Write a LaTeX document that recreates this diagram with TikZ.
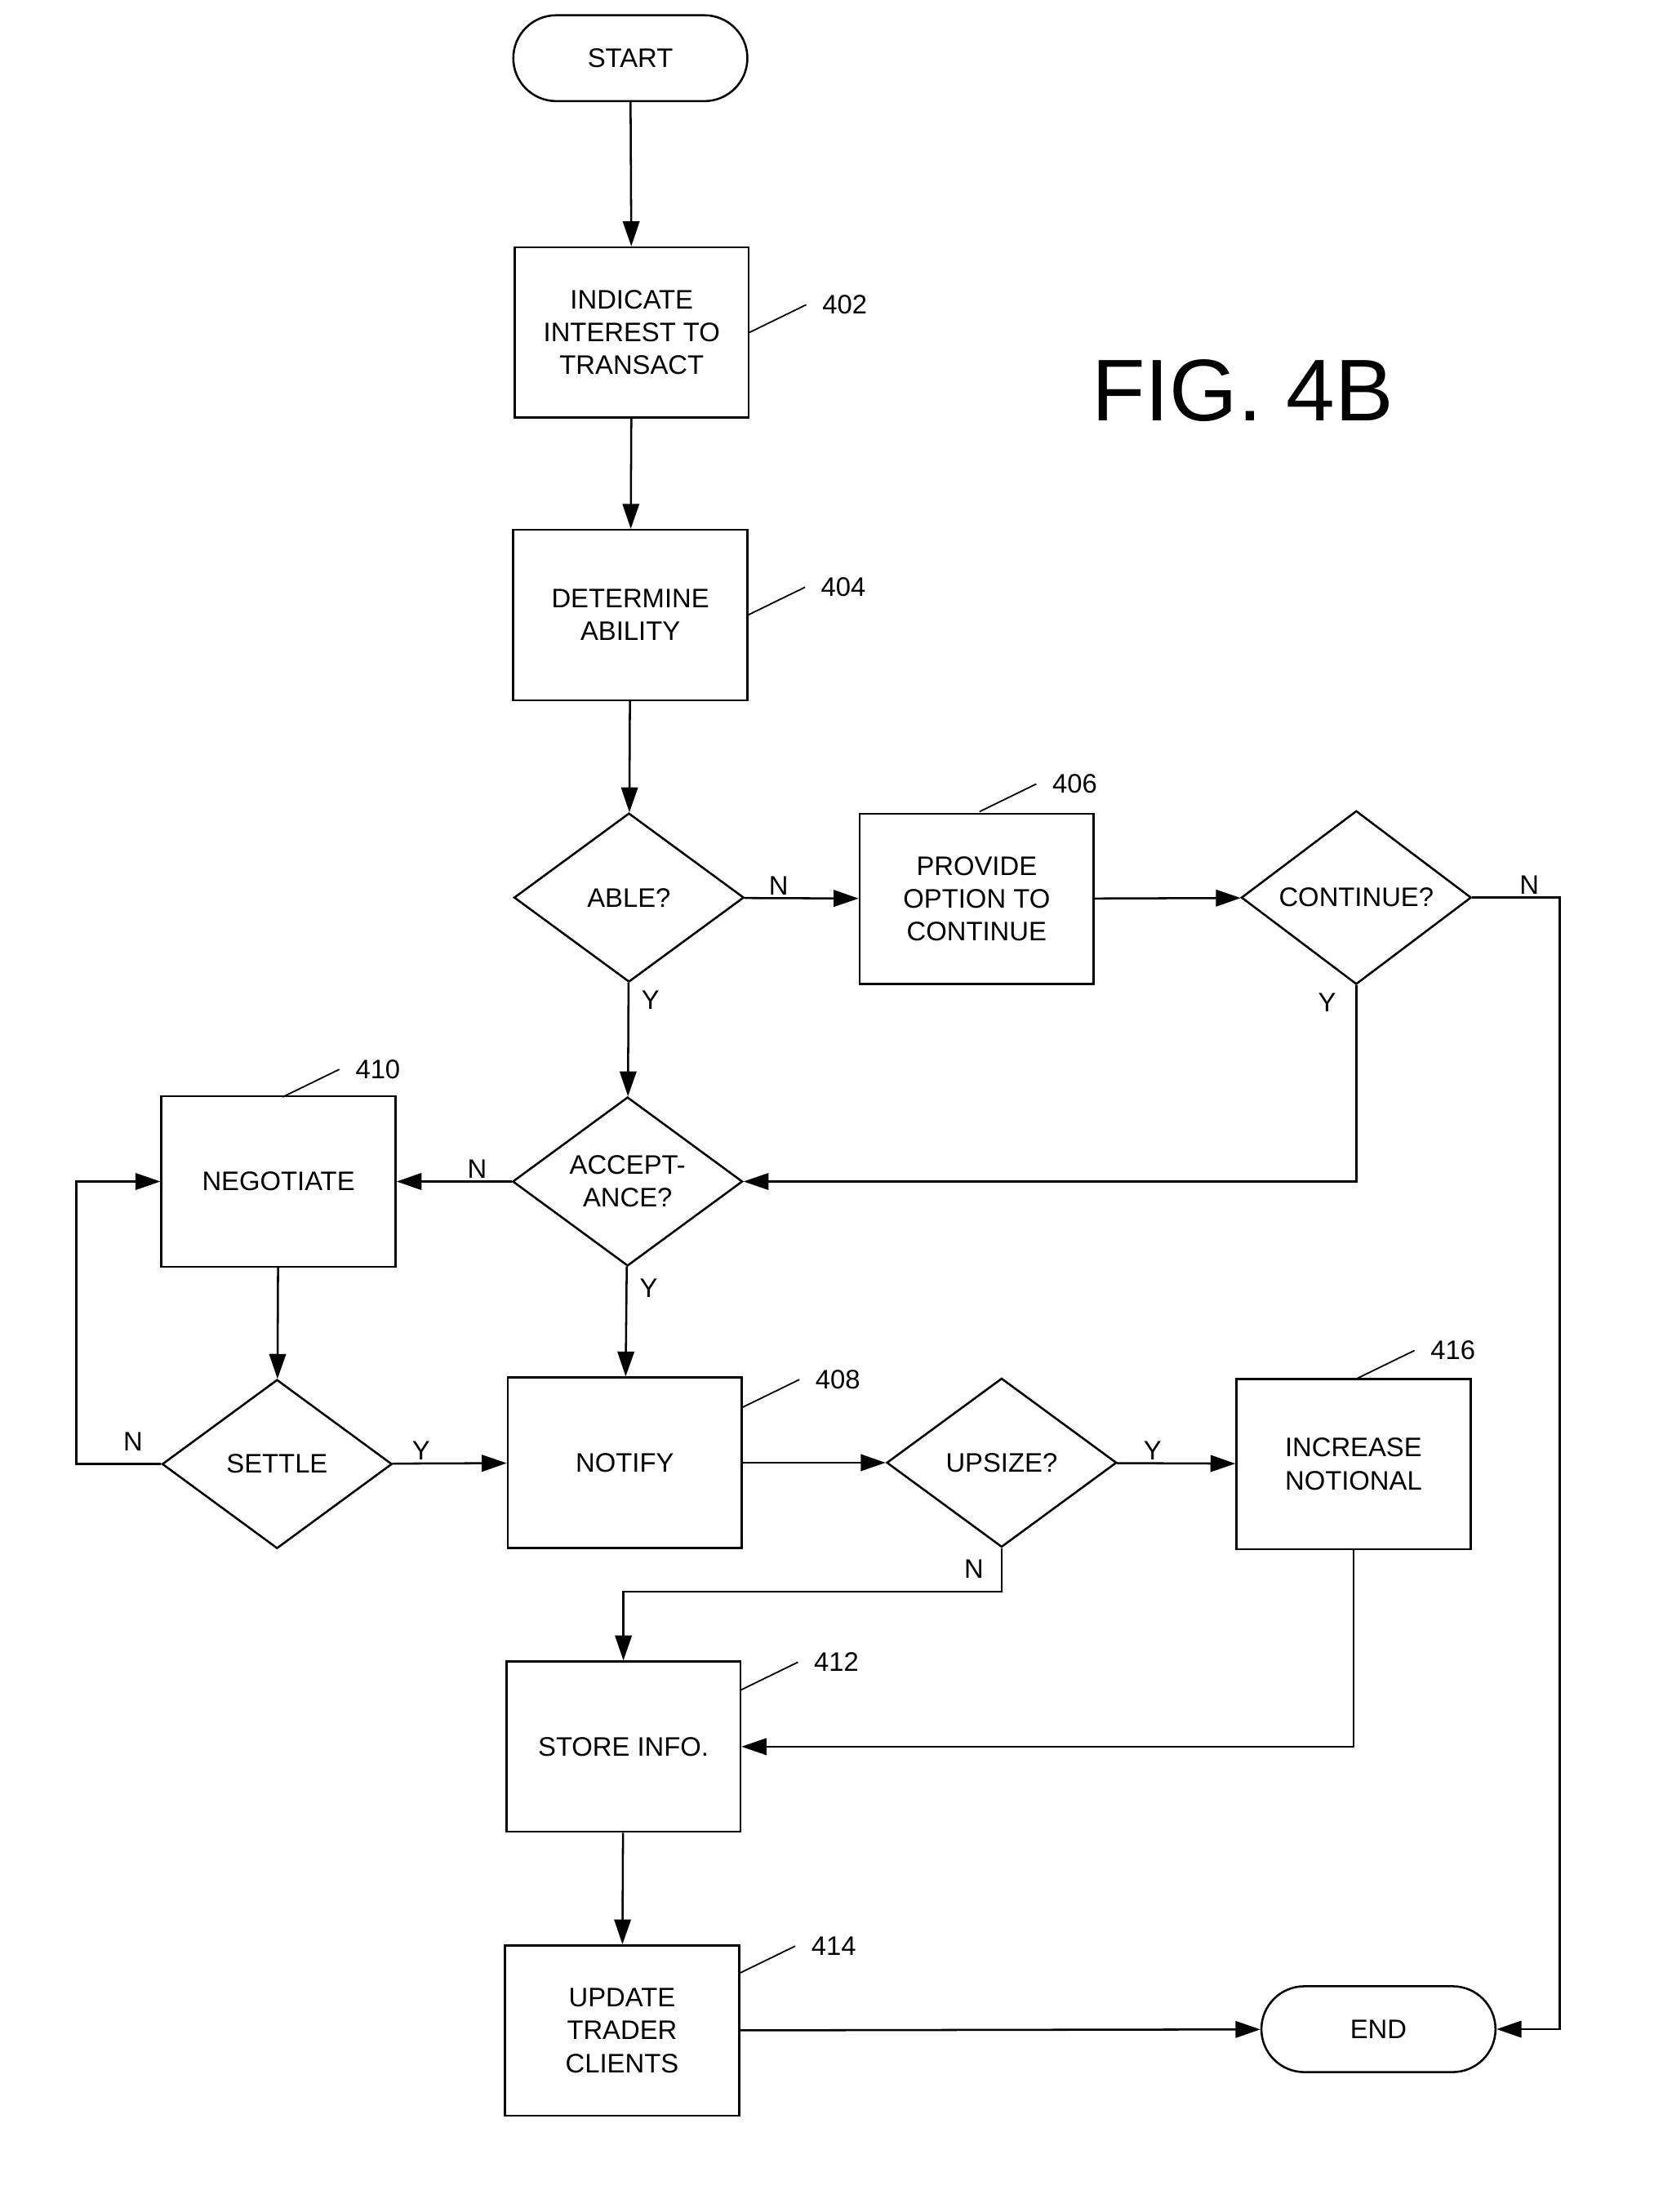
\documentclass[tikz,border=0pt]{standalone}
\usepackage{fontspec}
\setmainfont{Liberation Sans}
\usetikzlibrary{shapes.geometric,arrows.meta}
\begin{document}
\begin{tikzpicture}[x=0.02cm,y=-0.02cm,line width=0.85pt,
    font=\fontsize{11}{13.5}\selectfont,
    >={Triangle[length=0.36cm,width=0.24cm]},
    box/.style={draw,rectangle,minimum width=3.38cm,minimum height=2.46cm,align=center,inner sep=2pt},
    dec/.style={draw,diamond,minimum width=3.32cm,minimum height=2.44cm,align=center,inner sep=0pt},
    term/.style={draw,rectangle,rounded corners=0.62cm,minimum width=3.38cm,minimum height=1.24cm},
    lbl/.style={inner sep=1pt}]
    \useasboundingbox (0,0) rectangle (1200,1597);
    % nodes
    \node[term] (start) at (455,42) {START};
    \node[box] (indicate) at (456,240) {INDICATE\\INTEREST TO\\TRANSACT};
    \node[box] (determine) at (455,444) {DETERMINE\\ABILITY};
    \node[dec] (able) at (454,648) {ABLE?};
    \node[box] (provide) at (705,649) {PROVIDE\\OPTION TO\\CONTINUE};
    \node[dec] (continue) at (979,648) {CONTINUE?};
    \node[box] (negotiate) at (201,853) {NEGOTIATE};
    \node[dec] (accept) at (453,853) {ACCEPT-\\ANCE?};
    \node[dec] (settle) at (200,1057) {SETTLE};
    \node[box] (notify) at (451,1056) {NOTIFY};
    \node[dec] (upsize) at (723,1056) {UPSIZE?};
    \node[box] (increase) at (977,1057) {INCREASE\\NOTIONAL};
    \node[box] (store) at (450,1261) {STORE INFO.};
    \node[box] (update) at (449,1466) {UPDATE\\TRADER\\CLIENTS};
    \node[term] (end) at (995,1465) {END};
    \node[font=\fontsize{36}{40}\selectfont] (fig) at (897,282) {FIG. 4B};
    % connectors
    \draw[->] (start) -- (indicate);
    \draw[->] (indicate) -- (determine);
    \draw[->] (determine) -- (able);
    \draw[->] (able) -- node[lbl,above,pos=0.3]{N} (provide);
    \draw[->] (provide) -- (continue);
    \draw[->] (continue.east) -- node[lbl,above right,pos=0.5]{N} (1126,648) |- (end.east);
    \draw[->] (continue.south) |- (accept.east);
    \node[lbl] (contY) at (958,724) {Y};
    \draw[->] (able) -- node[lbl,right,pos=0.15,xshift=4pt]{Y} (accept);
    \draw[->] (accept) -- node[lbl,above,pos=0.3]{N} (negotiate);
    \draw[->] (accept) -- node[lbl,right,pos=0.2,xshift=4pt]{Y} (notify);
    \draw[->] (negotiate) -- (settle);
    \draw[->] (settle) -- node[lbl,above,pos=0.25]{Y} (notify);
    \draw[->] (settle.west) -- (55,1057) |- (negotiate.west);
    \node[lbl] (settleN) at (96,1041) {N};
    \draw[->] (notify) -- (upsize);
    \draw[->] (upsize) -- node[lbl,above,pos=0.3]{Y} (increase);
    \draw[->] (upsize.south) -- (723,1149) -| (store.north);
    \node[lbl] (upsizeN) at (703,1133) {N};
    \draw[->] (increase.south) |- (store.east);
    \draw[->] (store) -- (update);
    \draw[->] (update) -- (end);
    % reference numerals
    \foreach \x/\y/\t in {541/240/402,540/444/404,707/586/406,204/792/410,536/1016/408,980/995/416,535/1220/412,533/1425/414}
        \draw[line width=0.6pt] (\x,\y) -- ++(41,-20) node[right,xshift=3pt]{\t};
\end{tikzpicture}
\end{document}
